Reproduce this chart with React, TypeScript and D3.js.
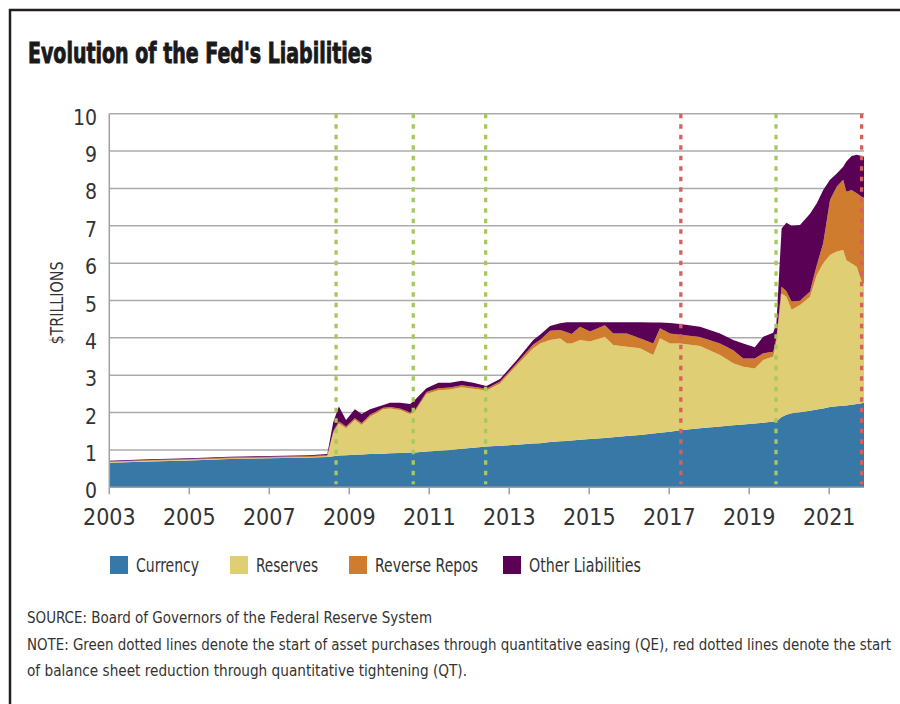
import React, { useEffect, useRef } from 'react';
import * as d3 from 'd3';

// decimal years
const dates = [
  2003.0, 2004.0, 2005.0, 2006.0, 2007.0, 2008.0, 2008.45, 2008.6, 2008.74, 2008.92,
  2009.14, 2009.31, 2009.52, 2009.85, 2010.02, 2010.27, 2010.52, 2010.64, 2010.93, 2011.23,
  2011.52, 2011.81, 2012.1, 2012.43, 2012.77, 2013.19, 2013.6, 2013.77, 2014.02, 2014.27,
  2014.44, 2014.56, 2014.77, 2015.02, 2015.39, 2015.6, 2015.94, 2016.27, 2016.6, 2016.77,
  2017.02, 2017.27, 2017.77, 2018.27, 2018.6, 2018.85, 2019.14, 2019.35, 2019.6, 2019.68,
  2019.81, 2019.93, 2020.06, 2020.27, 2020.52, 2020.69, 2020.85, 2021.02, 2021.19, 2021.35,
  2021.43, 2021.56, 2021.69, 2021.81, 2021.87,
];

// $ trillions
const currency = [
  0.66, 0.69, 0.72, 0.76, 0.78, 0.8, 0.81, 0.83, 0.85, 0.86,
  0.87, 0.88, 0.89, 0.9, 0.91, 0.92, 0.93, 0.93, 0.96, 0.98,
  1.0, 1.03, 1.06, 1.09, 1.11, 1.14, 1.17, 1.18, 1.21, 1.23,
  1.24, 1.25, 1.27, 1.29, 1.32, 1.34, 1.37, 1.4, 1.44, 1.46,
  1.49, 1.53, 1.58, 1.63, 1.66, 1.68, 1.71, 1.73, 1.76, 1.77,
  1.88, 1.94, 1.98, 2.01, 2.05, 2.08, 2.11, 2.15, 2.17, 2.18,
  2.19, 2.21, 2.23, 2.25, 2.26,
];
const reserves = [
  0.02, 0.02, 0.02, 0.01, 0.01, 0.01, 0.02, 0.62, 0.86, 0.72,
  0.93, 0.79, 1.0, 1.19, 1.2, 1.15, 1.03, 1.09, 1.54, 1.62,
  1.62, 1.65, 1.58, 1.5, 1.67, 2.13, 2.55, 2.67, 2.73, 2.76,
  2.61, 2.6, 2.67, 2.61, 2.71, 2.47, 2.39, 2.32, 2.1, 2.53,
  2.36, 2.32, 2.2, 1.91, 1.66, 1.55, 1.47, 1.68, 1.74, 2.13,
  3.31, 3.16, 2.77, 2.87, 3.05, 3.6, 3.89, 4.07, 4.14, 4.17,
  3.89, 3.79, 3.67, 3.25, 3.19,
];
const reverseRepos = [
  0.01, 0.02, 0.02, 0.03, 0.03, 0.03, 0.03, 0.05, 0.05, 0.05,
  0.05, 0.05, 0.05, 0.04, 0.04, 0.04, 0.04, 0.04, 0.05, 0.05,
  0.05, 0.05, 0.05, 0.05, 0.05, 0.06, 0.1, 0.09, 0.25, 0.22,
  0.3, 0.25, 0.36, 0.27, 0.31, 0.31, 0.36, 0.27, 0.31, 0.27,
  0.27, 0.23, 0.24, 0.31, 0.35, 0.22, 0.27, 0.18, 0.13, 0.1,
  0.18, 0.15, 0.22, 0.11, 0.14, 0.27, 0.53, 1.47, 1.74, 1.88,
  1.83, 1.96, 1.97, 2.28, 2.3,
];
const otherLiabilities = [
  0.02, 0.02, 0.02, 0.02, 0.02, 0.02, 0.03, 0.25, 0.4, 0.17,
  0.24, 0.24, 0.15, 0.07, 0.11, 0.15, 0.23, 0.28, 0.1, 0.15,
  0.13, 0.12, 0.11, 0.07, 0.07, 0.08, 0.12, 0.14, 0.13, 0.18,
  0.27, 0.32, 0.12, 0.25, 0.08, 0.3, 0.3, 0.43, 0.56, 0.15,
  0.28, 0.29, 0.28, 0.27, 0.27, 0.4, 0.3, 0.44, 0.51, 0.39,
  1.56, 1.83, 2.03, 2.03, 2.08, 1.65, 1.43, 0.54, 0.35, 0.35,
  0.81, 0.91, 1.03, 1.09, 1.1,
];

const seriesNames = ['Currency', 'Reserves', 'Reverse Repos', 'Other Liabilities'];
const seriesColors = ['#3778a7', '#e0ce74', '#d07c2e', '#5a0055'];
const legendWidths = [63, 62, 103, 112];

const yTicks = [0, 1, 2, 3, 4, 5, 6, 7, 8, 9, 10];
const xTicks = [2003, 2005, 2007, 2009, 2011, 2013, 2015, 2017, 2019, 2021];

// QE starts (green) and QT starts (red)
const qeStarts = [2008.67, 2010.6, 2012.41, 2019.67];
const qtStarts = [2017.29, 2021.81];

const title = "Evolution of the Fed's Liabilities";
const source = 'SOURCE: Board of Governors of the Federal Reserve System';
const note1 = 'NOTE: Green dotted lines denote the start of asset purchases through quantitative easing (QE), red dotted lines denote the start';
const note2 = 'of balance sheet reduction through quantitative tightening (QT).';

const W = 900;
const H = 704;
const font = '"Liberation Sans Narrow", "DejaVu Sans Condensed", sans-serif';

export default function App() {
  const ref = useRef<SVGSVGElement>(null);

  useEffect(() => {
    const svg = d3.select(ref.current);
    svg.selectAll('*').remove();

    const x = d3.scaleLinear().domain([2003, 2021.87]).range([109.3, 864]);
    const y = d3.scaleLinear().domain([0, 10]).range([487.3, 113.7]);

    // frame
    svg.append('rect')
      .attr('x', 10).attr('y', 10)
      .attr('width', W + 20).attr('height', H + 20)
      .attr('fill', 'none')
      .attr('stroke', '#231f20')
      .attr('stroke-width', 2.5);

    svg.append('text')
      .attr('x', 28).attr('y', 63)
      .attr('font-family', font)
      .attr('font-weight', 'bold')
      .attr('font-size', 28)
      .attr('fill', '#1a1a1a')
      .attr('stroke', '#1a1a1a')
      .attr('stroke-width', 0.9)
      .attr('textLength', 344)
      .attr('lengthAdjust', 'spacingAndGlyphs')
      .text(title);

    // gridlines
    svg.append('g')
      .selectAll('line')
      .data(yTicks.filter(d => d > 0))
      .enter()
      .append('line')
      .attr('x1', x(2003)).attr('x2', x.range()[1])
      .attr('y1', d => y(d)).attr('y2', d => y(d))
      .attr('stroke', '#ababab')
      .attr('stroke-width', 1.5);

    // stacked areas
    const rows = dates.map((d, i) => ({
      date: d,
      'Currency': currency[i],
      'Reserves': reserves[i],
      'Reverse Repos': reverseRepos[i],
      'Other Liabilities': otherLiabilities[i],
    }));
    const stacked = d3.stack<any>().keys(seriesNames)(rows);
    const area = d3.area<any>()
      .x(d => x(d.data.date))
      .y0(d => y(d[0]))
      .y1(d => y(d[1]));

    svg.append('g')
      .selectAll('path')
      .data(stacked)
      .enter()
      .append('path')
      .attr('d', area)
      .attr('fill', (d, i) => seriesColors[i]);

    // axes lines
    svg.append('line')
      .attr('x1', x(2003)).attr('x2', x(2003))
      .attr('y1', y(10)).attr('y2', y(0))
      .attr('stroke', '#a0a0a0').attr('stroke-width', 1.5);
    svg.append('line')
      .attr('x1', x(2003)).attr('x2', x.range()[1])
      .attr('y1', y(0)).attr('y2', y(0))
      .attr('stroke', '#a0a0a0').attr('stroke-width', 1.5);

    const xt = svg.append('g');
    xt.selectAll('line')
      .data(xTicks)
      .enter()
      .append('line')
      .attr('x1', d => x(d)).attr('x2', d => x(d))
      .attr('y1', y(0)).attr('y2', y(0) + 7)
      .attr('stroke', '#a0a0a0').attr('stroke-width', 1.5);
    xt.selectAll('text')
      .data(xTicks)
      .enter()
      .append('text')
      .attr('x', d => x(d)).attr('y', 525)
      .attr('text-anchor', 'middle')
      .attr('font-family', font)
      .attr('font-size', 23)
      .attr('fill', '#333')
      .text(d => d);

    svg.append('g')
      .selectAll('text')
      .data(yTicks)
      .enter()
      .append('text')
      .attr('x', 97).attr('y', d => y(d) + 11)
      .attr('text-anchor', 'end')
      .attr('font-family', font)
      .attr('font-size', 21)
      .attr('fill', '#333')
      .text(d => d);

    svg.append('text')
      .attr('transform', 'translate(63,303) rotate(-90)')
      .attr('text-anchor', 'middle')
      .attr('font-family', font)
      .attr('font-size', 17)
      .attr('fill', '#333')
      .attr('textLength', 83)
      .attr('lengthAdjust', 'spacingAndGlyphs')
      .text('$TRILLIONS');

    // QE / QT markers
    const markers = [
      ...qeStarts.map(d => ({ date: d, color: '#a8c85f' })),
      ...qtStarts.map(d => ({ date: d, color: '#d9605a' })),
    ];
    svg.append('g')
      .selectAll('line')
      .data(markers)
      .enter()
      .append('line')
      .attr('x1', d => x(d.date)).attr('x2', d => x(d.date))
      .attr('y1', y(10)).attr('y2', y(0) - 3)
      .attr('stroke', d => d.color)
      .attr('stroke-width', 3.3)
      .attr('stroke-dasharray', '4.5 6');

    // legend
    const legendX = [110, 230, 349, 503];
    const lg = svg.append('g');
    lg.selectAll('rect')
      .data(seriesNames)
      .enter()
      .append('rect')
      .attr('x', (d, i) => legendX[i]).attr('y', 556)
      .attr('width', 18).attr('height', 18)
      .attr('fill', (d, i) => seriesColors[i]);
    lg.selectAll('text')
      .data(seriesNames)
      .enter()
      .append('text')
      .attr('x', (d, i) => legendX[i] + 26).attr('y', 572)
      .attr('font-family', font)
      .attr('font-size', 19)
      .attr('fill', '#333')
      .attr('textLength', (d, i) => legendWidths[i])
      .attr('lengthAdjust', 'spacingAndGlyphs')
      .text(d => d);

    // footer
    const footer = [
      { text: source, y: 623, len: 405 },
      { text: note1, y: 650, len: 864 },
      { text: note2, y: 676, len: 440 },
    ];
    svg.append('g')
      .selectAll('text')
      .data(footer)
      .enter()
      .append('text')
      .attr('x', 27).attr('y', d => d.y)
      .attr('font-family', font)
      .attr('font-size', 16)
      .attr('fill', '#333')
      .attr('textLength', d => d.len)
      .attr('lengthAdjust', 'spacingAndGlyphs')
      .text(d => d.text);
  }, []);

  return (
    <svg
      ref={ref}
      width={W}
      height={H}
      style={{ position: 'absolute', left: 0, top: 0, background: '#fff' }}
    />
  );
}
